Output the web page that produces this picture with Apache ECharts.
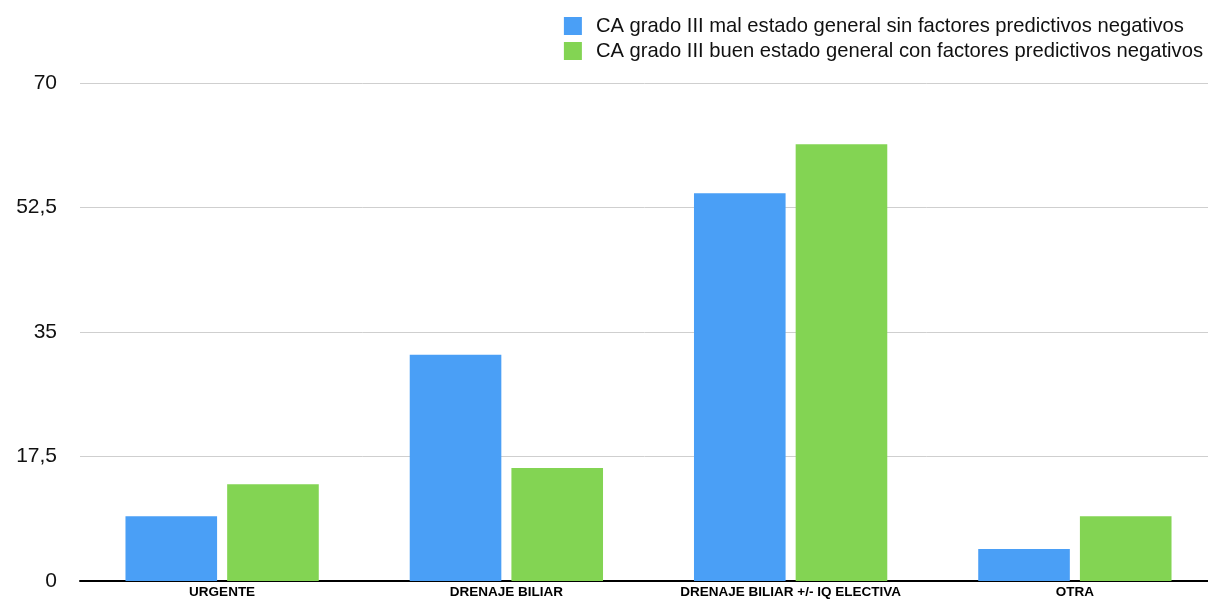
<!DOCTYPE html>
<html>
<head>
<meta charset="utf-8">
<script src="https://cdn.jsdelivr.net/npm/echarts@6/dist/echarts.min.js"></script>
<style>
  html, body { margin: 0; padding: 0; background: #fff; }
  #chart { width: 1208px; height: 599px; }
</style>
</head>
<body>
<div id="chart"></div>
<script>
var categories = ['URGENTE', 'DRENAJE BILIAR', 'DRENAJE BILIAR +/- IQ ELECTIVA', 'OTRA'];
var seriesNames = [
  'CA grado III mal estado general sin factores predictivos negativos',
  'CA grado III buen estado general con factores predictivos negativos'
];
var malEstado = [9.1, 31.8, 54.5, 4.5];
var buenEstado = [13.6, 15.9, 61.4, 9.1];
var yTicks = [0, 17.5, 35, 52.5, 70];

var chart = echarts.init(document.getElementById('chart'));

var option = {
    backgroundColor: '#ffffff',
    textStyle: { fontFamily: 'Liberation Sans, Arial, sans-serif' },
    legend: {
        orient: 'vertical',
        right: 0,
        top: 11,
        itemWidth: 18,
        itemHeight: 18,
        itemGap: 5,
        icon: 'rect',
        textStyle: { fontSize: 20.2, color: '#111', padding: [0, 0, 0, 9] },
        data: seriesNames
    },
    grid: {
        left: 80,
        right: -9,
        top: 83,
        bottom: 18,
        containLabel: false,
        outerBoundsMode: 'none'
    },
    xAxis: {
        type: 'category',
        data: categories,
        axisTick: { show: false },
        axisLine: { lineStyle: { color: '#000', width: 2 } },
        axisLabel: {
            fontSize: 13.5,
            fontWeight: 'bold',
            color: '#000',
            margin: 4,
            interval: 0
        }
    },
    yAxis: {
        type: 'value',
        min: yTicks[0],
        max: yTicks[yTicks.length - 1],
        interval: 17.5,
        axisLine: { show: false },
        axisTick: { show: false },
        splitLine: { lineStyle: { color: '#cfcfcf', width: 1 } },
        axisLabel: {
            fontSize: 21,
            color: '#111',
            margin: 23,
            formatter: function (v) { return String(v).replace('.', ','); }
        }
    },
    series: [
        {
            name: seriesNames[0],
            type: 'bar',
            data: malEstado,
            barGap: '11%',
            barCategoryGap: '32%',
            itemStyle: { color: '#4a9ff6' }
        },
        {
            name: seriesNames[1],
            type: 'bar',
            data: buenEstado,
            itemStyle: { color: '#83d453' }
        }
    ]
};

chart.setOption(option);
</script>
</body>
</html>
